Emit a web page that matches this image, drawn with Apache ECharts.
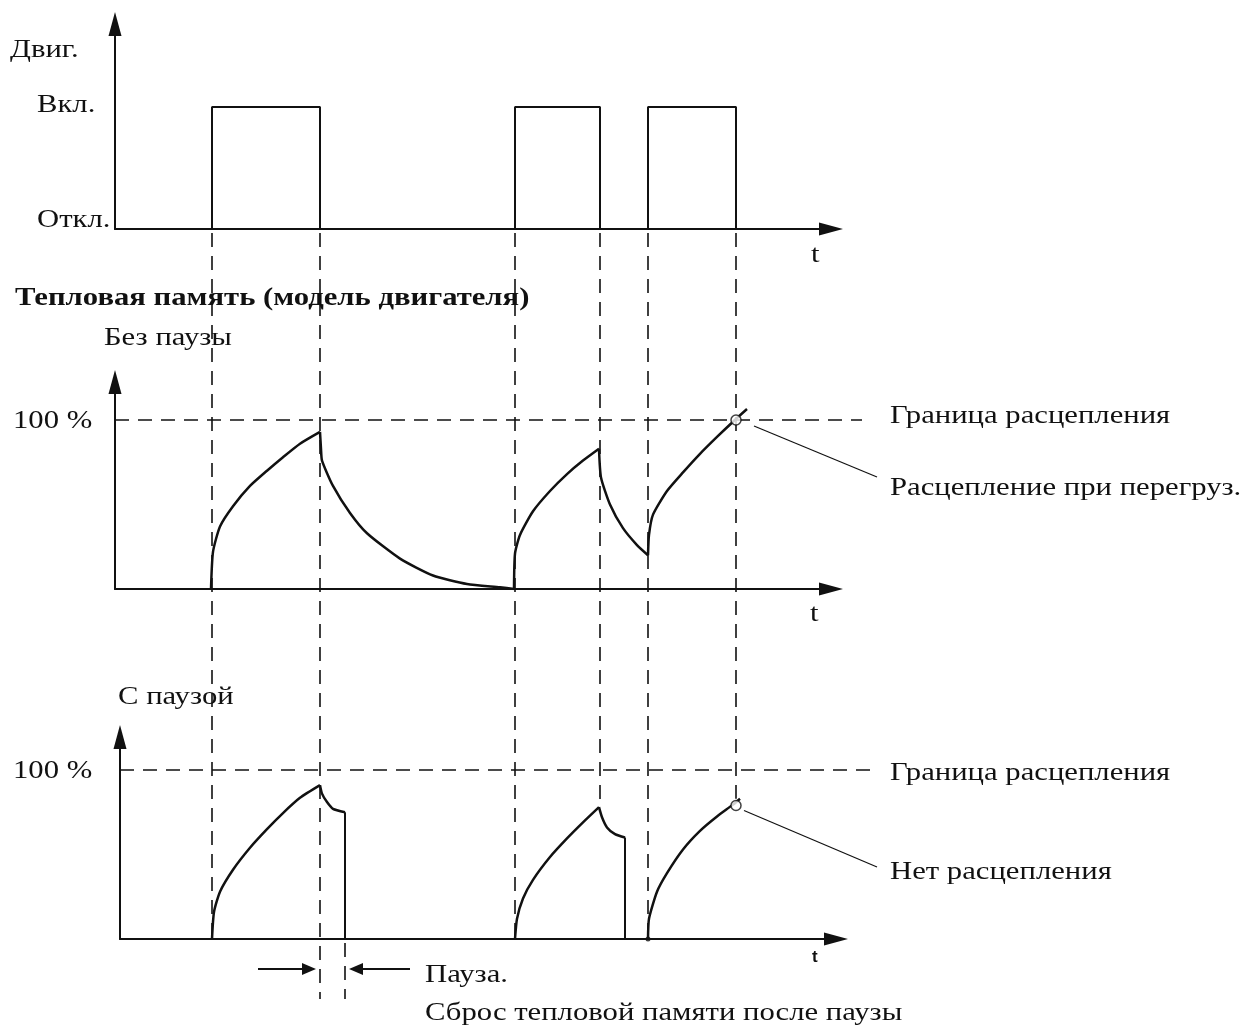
<!DOCTYPE html>
<html>
<head>
<meta charset="utf-8">
<script src="https://cdn.jsdelivr.net/npm/echarts@6/dist/echarts.min.js"></script>
<style>
  html, body { margin: 0; padding: 0; background: #fff; }
  #main { width: 1245px; height: 1029px; }
</style>
</head>
<body>
<div id="main"></div>
<script>
// time is in arbitrary units along the t axis (same scale in all three panels)
var motorT     = [0, 97, 97, 205, 205, 400, 400, 485, 485, 533, 533, 621, 621, 716];
var motorState = [0, 0,  1,  1,   0,   0,   1,   1,   0,   0,   1,   1,   0,   0];
var switchT = [97, 205, 400, 485, 533, 621];
var pauseEndT = 230;

// thermal memory, no pause (%)
var nopHeat1T = [96, 98, 105, 118, 135, 152, 168, 185, 205];
var nopHeat1V = [0, 22, 37, 49, 61, 70, 78, 86, 93];
var nopCool1T = [205, 206, 207, 218, 235, 252, 285, 318, 352, 385, 399];
var nopCool1V = [93, 83, 76, 61, 45, 33, 18, 8, 3, 1, 0];
var nopHeat2T = [399, 400, 405, 418, 435, 452, 468, 484];
var nopHeat2V = [0, 21, 32, 46, 58, 68, 76, 83];
var nopCool2T = [484, 486, 495, 508, 522, 533];
var nopCool2V = [83, 66, 50, 36, 26, 20];
var nopHeat3T = [533, 534, 538, 552, 568, 585, 602, 618, 632];
var nopHeat3V = [20, 32, 44, 58, 69, 80, 90, 99, 106.5];
var tripPoint = [621, 100];

// thermal memory, with pause (%)
var pHeat1T = [97, 99, 105, 118, 135, 152, 168, 185, 205];
var pHeat1V = [0, 16, 28, 41, 54, 65, 74.5, 83.5, 91];
var pCool1T = [205, 207, 212, 218, 230];
var pCool1V = [91, 86, 81, 77, 75];
var pHeat2T = [400, 402, 408, 418, 435, 452, 468, 484];
var pHeat2V = [0, 12, 24, 35, 48.5, 59.5, 69, 78];
var pCool2T = [484, 487, 492, 500, 510];
var pCool2V = [78, 72, 66, 62, 60];
var pHeat3T = [533, 534, 542, 552, 568, 585, 602, 618, 625];
var pHeat3V = [0, 12, 28, 39, 53, 64, 72.5, 79.5, 83];
var noTripPoint = [621, 79];

var INK = '#111';
var SERIF = '"Liberation Serif", "Times New Roman", serif';

function zip(a, b) { return a.map(function (v, i) { return [v, b[i]]; }); }
function last(a) { return a[a.length - 1]; }

function axisX(grid, min, max) {
  return {
    type: 'value', gridIndex: grid, min: min, max: max,
    axisLine: { show: true, symbol: ['none', 'triangle'], symbolSize: [13, 24], lineStyle: { color: INK, width: 2 } },
    axisTick: { show: false }, axisLabel: { show: false }, splitLine: { show: false }
  };
}
function axisY(grid, max) {
  return {
    type: 'value', gridIndex: grid, min: 0, max: max,
    axisLine: { show: true, symbol: ['none', 'triangle'], symbolSize: [13, 24], lineStyle: { color: INK, width: 2 } },
    axisTick: { show: false }, axisLabel: { show: false }, splitLine: { show: false }
  };
}
function curve(idx, data, smooth) {
  return {
    type: 'line', xAxisIndex: idx, yAxisIndex: idx, data: data,
    smooth: smooth ? 0.2 : false, showSymbol: false, symbol: 'none',
    lineStyle: { color: INK, width: 2.5 }, silent: true, animation: false
  };
}

var chart = echarts.init(document.getElementById('main'));

var option = {
  animation: false,
  backgroundColor: '#fff',
  grid: [
    { left: 115, top: 24, width: 716, height: 205, outerBoundsMode: 'none' },
    { left: 115, top: 382, width: 716, height: 207, outerBoundsMode: 'none' },
    { left: 120, top: 737, width: 716, height: 202, outerBoundsMode: 'none' }
  ],
  xAxis: [axisX(0, 0, 716), axisX(1, 0, 716), axisX(2, 5, 721)],
  yAxis: [axisY(0, 1.68), axisY(1, 122.5), axisY(2, 119.5)],
  series: [
    Object.assign(curve(0, zip(motorT, motorState), false), { lineStyle: { color: INK, width: 2 } }),

    curve(1, zip(nopHeat1T, nopHeat1V), true),
    curve(1, zip(nopCool1T, nopCool1V), true),
    curve(1, zip(nopHeat2T, nopHeat2V), true),
    curve(1, zip(nopCool2T, nopCool2V), true),
    curve(1, zip(nopHeat3T, nopHeat3V), true),
    {
      type: 'scatter', xAxisIndex: 1, yAxisIndex: 1, data: [tripPoint],
      symbol: 'circle', symbolSize: 10, silent: true,
      itemStyle: { color: '#fff', borderColor: INK, borderWidth: 1.5 }, z: 5
    },

    curve(2, zip(pHeat1T, pHeat1V), true),
    curve(2, zip(pCool1T, pCool1V), true),
    Object.assign(curve(2, [last(zip(pCool1T, pCool1V)), [last(pCool1T), 0]], false), { lineStyle: { color: INK, width: 2 } }),
    curve(2, zip(pHeat2T, pHeat2V), true),
    curve(2, zip(pCool2T, pCool2V), true),
    Object.assign(curve(2, [last(zip(pCool2T, pCool2V)), [last(pCool2T), 0]], false), { lineStyle: { color: INK, width: 2 } }),
    curve(2, zip(pHeat3T, pHeat3V), true),
    {
      type: 'scatter', xAxisIndex: 2, yAxisIndex: 2, data: [noTripPoint],
      symbol: 'circle', symbolSize: 10, silent: true,
      itemStyle: { color: '#fff', borderColor: INK, borderWidth: 1.5 }, z: 5
    },
    {
      type: 'scatter', xAxisIndex: 2, yAxisIndex: 2, data: [[pHeat3T[0], 0]],
      symbol: 'circle', symbolSize: 5, silent: true, itemStyle: { color: INK }
    }
  ]
};
chart.setOption(option);

function px(g, t, v) { return chart.convertToPixel({ gridIndex: g }, [t, v]); }

var dash = { stroke: INK, lineWidth: 1.6, lineDash: [14, 9] };
var g = [];
function seg(x1, y1, x2, y2, style) {
  g.push({ type: 'line', silent: true, z: 1, shape: { x1: x1, y1: y1, x2: x2, y2: y2 }, style: style });
}
function txt(s, x, y, size, opts) {
  opts = opts || {};
  g.push({
    type: 'text', silent: true, x: x, y: y, scaleX: opts.sx || 1.18,
    style: {
      text: s, fill: INK, font: (opts.bold ? 'bold ' : '') + size + 'px ' + (opts.family || SERIF),
      align: 'left', textAlign: 'left', verticalAlign: 'middle', textVerticalAlign: 'middle'
    }
  });
}

// vertical guides from motor switching instants
var top0 = px(0, 0, 0)[1] + 4;
var base2 = px(2, 5, 0)[1];
switchT.forEach(function (t) {
  var x = px(0, t, 0)[0];
  var bottom = base2;
  if (t === 205) bottom = base2 + 60;
  if (t === 485) bottom = px(2, t, last(pHeat2V))[1];
  if (t === 621) bottom = px(2, t, noTripPoint[1] + 4)[1];
  seg(x, top0, x, bottom, dash);
});
var xp = px(2, pauseEndT, 0)[0];
seg(xp, base2 + 4, xp, base2 + 60, dash);

// trip limit lines (100 %)
var l1 = px(1, 0, 100), l2 = px(2, 5, 100);
seg(l1[0], l1[1], l1[0] + 747, l1[1], dash);
seg(l2[0], l2[1], l2[0] + 750, l2[1], dash);

// leader lines
var c1 = px(1, tripPoint[0], tripPoint[1]);
seg(c1[0] + 18, c1[1] + 6, 877, 477, { stroke: INK, lineWidth: 1.2 });
var c2 = px(2, noTripPoint[0], noTripPoint[1]);
seg(c2[0] + 8, c2[1] + 5, 877, 867, { stroke: INK, lineWidth: 1.2 });

// pause arrows
var xa = px(2, 205, 0)[0], ya = base2 + 30;
seg(xa - 62, ya, xa - 12, ya, { stroke: INK, lineWidth: 2 });
g.push({ type: 'polygon', silent: true, shape: { points: [[xa - 4, ya], [xa - 18, ya - 6], [xa - 18, ya + 6]] }, style: { fill: INK } });
seg(xp + 12, ya, xp + 65, ya, { stroke: INK, lineWidth: 2 });
g.push({ type: 'polygon', silent: true, shape: { points: [[xp + 4, ya], [xp + 18, ya - 6], [xp + 18, ya + 6]] }, style: { fill: INK } });

// texts
txt('Двиг.', 10, 50, 26);
txt('Вкл.', 37, 105, 26);
txt('Откл.', 37, 220, 26);
txt('t', 811, 255, 26);
txt('Тепловая память (модель двигателя)', 15, 298, 26, { bold: true });
txt('Без паузы', 104, 338, 26);
txt('100 %', 13, 421, 26);
txt('t', 810, 614, 26);
txt('Граница расцепления', 890, 416, 26);
txt('Расцепление при перегруз.', 890, 488, 26);
txt('С паузой', 118, 697, 26);
txt('100 %', 13, 771, 26);
txt('Граница расцепления', 890, 773, 26);
txt('Нет расцепления', 890, 872, 26);
txt('t', 812, 957, 17, { bold: true, family: '"Liberation Sans", Arial, sans-serif', sx: 1 });
txt('Пауза.', 425, 975, 26);
txt('Сброс тепловой памяти после паузы', 425, 1013, 26);

chart.setOption({ graphic: g });
</script>
</body>
</html>
